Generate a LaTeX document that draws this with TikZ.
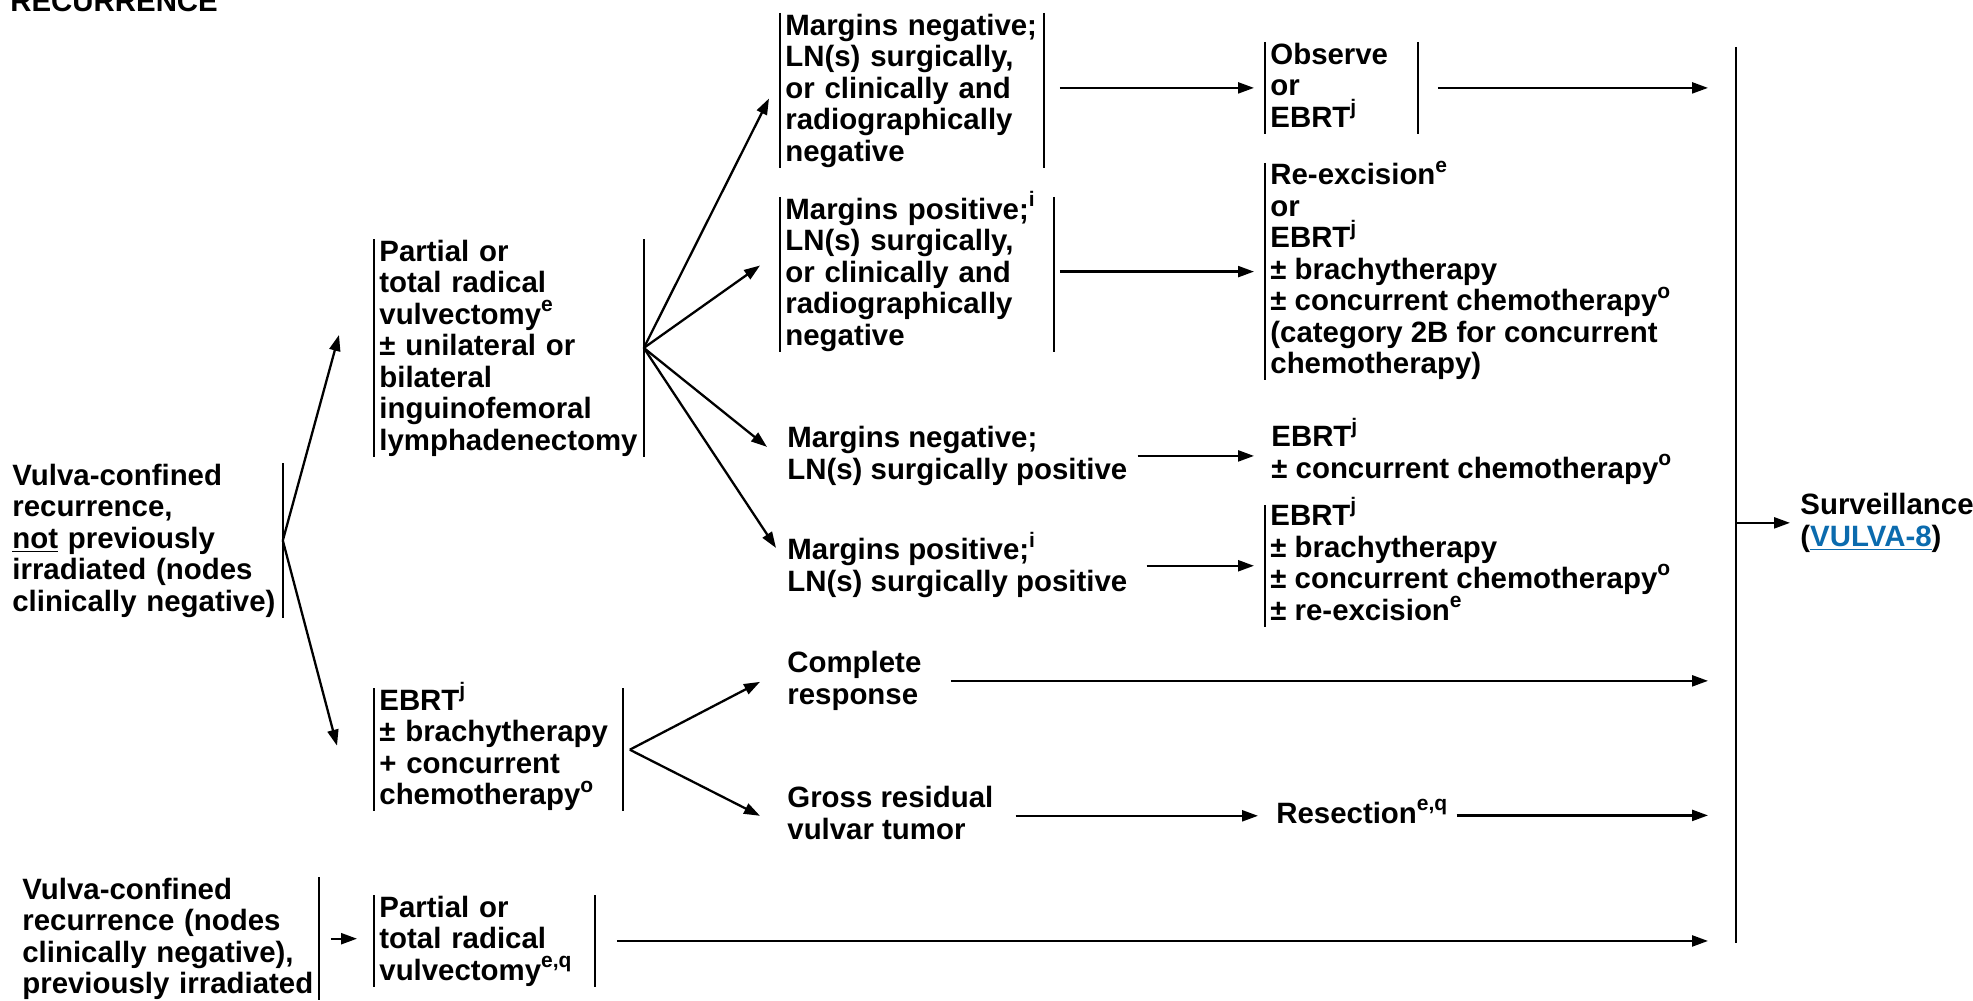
\documentclass[tikz,border=0pt]{standalone}
\usepackage{fontspec}
\setmainfont{Liberation Sans}
\usetikzlibrary{arrows.meta}
\definecolor{linkblue}{HTML}{0B6BAE}
\newcommand\tstrut{\rule[-3pt]{0pt}{14pt}}
\newcommand\fn[1]{\raisebox{0.43em}[0pt][0pt]{\fontsize{10.5}{10.5}\selectfont #1}}
\tikzset{
  txt/.style={anchor=north west, align=left, inner xsep=2.5pt, inner ysep=0pt,
    font=\fontsize{14.7}{15.75}\selectfont\bfseries,
    execute at begin node=\tstrut, execute at end node=\tstrut},
  arr/.style={-{Triangle[length=8pt,width=5.5pt]}, line width=1.15pt},
  bar/.style={line width=1.15pt},
}
\begin{document}
\begin{tikzpicture}[x=0.5pt,y=-0.5pt]
  \useasboundingbox (0,0) rectangle (1973,1000);
  \node[txt, anchor=base west, inner sep=0pt] (title) at (10,12) {RECURRENCE};
  % first column
  \node[txt, text width=132.5pt] (initA) at (7,463) {Vulva-confined\\recurrence,\\\underline{not} previously\\irradiated (nodes\\clinically~negative)};
  \node[txt, text width=145.5pt] (initB) at (17,877) {Vulva-confined\\recurrence (nodes\\clinically negative),\\previously~irradiated};
  \draw[bar] (initA.north east) -- (initA.south east);
  \draw[bar] (initB.north east) -- (initB.south east);
  % treatment
  \node[txt, text width=129.5pt] (vulv) at (374,239) {Partial or\\total radical\\vulvectomy\fn{e}\\± unilateral or\\bilateral\\inguinofemoral\\lymphadenectomy};
  \node[txt, text width=119pt] (crt) at (374,688) {EBRT\fn{j}\\± brachytherapy\\+ concurrent\\chemotherapy\fn{o}};
  \node[txt, text width=105pt] (vulv2) at (374,895) {Partial or\\total radical\\vulvectomy\fn{e,q}};
  \foreach \n in {vulv, crt, vulv2} {
    \draw[bar] (\n.north west) -- (\n.south west) (\n.north east) -- (\n.south east);
  }
  % findings
  \node[txt, text width=126.5pt] (mneg) at (780,13) {Margins~negative;\\LN(s) surgically,\\or clinically and\\radiographically\\negative};
  \node[txt, text width=131.5pt] (mpos) at (780,197) {Margins positive;\fn{i}\\LN(s) surgically,\\or clinically and\\radiographically\\negative};
  \draw[bar] (mneg.north west) -- (mneg.south west) (mneg.north east) -- (mneg.south east);
  \draw[bar] (mpos.north west) -- (mpos.south west) (mpos.north east) -- (mpos.south east);
  \node[txt] (mnegpos) at (782,426) {Margins negative;\\LN(s) surgically positive};
  \node[txt] (mpospos) at (782,538) {Margins positive;\fn{i}\\LN(s) surgically positive};
  \node[txt] (cr) at (782,651) {Complete\\response};
  \node[txt] (gr) at (782,786) {Gross residual\\vulvar tumor};
  % adjuvant
  \node[txt, text width=71pt] (obs) at (1265,42) {Observe\\or\\EBRT\fn{j}};
  \draw[bar] (obs.north west) -- (obs.south west) (obs.north east) -- (obs.south east);
  \node[txt] (reexc) at (1265,163) {Re-excision\fn{e}\\or\\EBRT\fn{j}\\± brachytherapy\\± concurrent chemotherapy\fn{o}\\(category 2B for concurrent\\chemotherapy)};
  \node[txt] (ebrt2) at (1266,426) {EBRT\fn{j}\\± concurrent chemotherapy\fn{o}};
  \node[txt] (ebrt4) at (1265,505) {EBRT\fn{j}\\± brachytherapy\\± concurrent chemotherapy\fn{o}\\± re-excision\fn{e}};
  \node[txt] (res) at (1271,801) {Resection\fn{e,q}};
  \draw[bar] (reexc.north west) -- (reexc.south west);
  \draw[bar] (ebrt4.north west) -- (ebrt4.south west);
  % surveillance
  \coordinate (sT) at (1736,47);
  \coordinate (sB) at (1736,943);
  \draw[bar] (sT) -- (sB);
  \node[txt] (surv) at (1795,493) {Surveillance\\(\textcolor{linkblue}{\underline{VULVA-8}})};
  % connectors
  \draw[arr] (initA.east) -- ([shift={(-35,-13)}]vulv.west);
  \draw[arr] (initA.east) -- ([shift={(-37,-4)}]crt.west);
  \draw[arr, shorten <=6pt, shorten >=8.5pt] (initB.east) -- (initB.east -| vulv2.west);
  \foreach \t/\dx/\dy in {mneg/-11/8, mpos/-20/-9, mnegpos/-15/-9, mpospos/-6/-20} {
    \draw[arr] (vulv.east) -- ([shift={(\dx,\dy)}]\t.west);
  }
  \draw[arr] ([shift={(7,0)}]crt.east) -- ([shift={(-22,1)}]cr.west);
  \draw[arr] ([shift={(7,0)}]crt.east) -- ([shift={(-22,0)}]gr.west);
  \draw[arr, shorten <=8pt, shorten >=5.5pt] (mneg.east |- obs.west) -- (obs.west);
  \draw[arr, shorten <=3pt, shorten >=5.5pt] (mpos.east |- reexc.west) -- (reexc.west);
  \draw[arr, shorten <=2.5pt, shorten >=6pt] (mnegpos.east) -- (mnegpos.east -| ebrt2.west);
  \draw[arr, shorten <=7pt, shorten >=5.5pt] (mpospos.east |- ebrt4.west) -- (ebrt4.west);
  \draw[arr, shorten <=8.5pt, shorten >=6.5pt] (gr.east) -- (gr.east -| res.west);
  \foreach \n/\s in {obs/10pt, cr/12pt, res/2pt, vulv2/11pt} {
    \draw[arr, shorten <=\s, shorten >=14pt] (\n.east) -- (\n.east -| sT);
  }
  \draw[arr, shorten >=2.5pt] (surv.west -| sT) -- (surv.west);
\end{tikzpicture}
\end{document}
